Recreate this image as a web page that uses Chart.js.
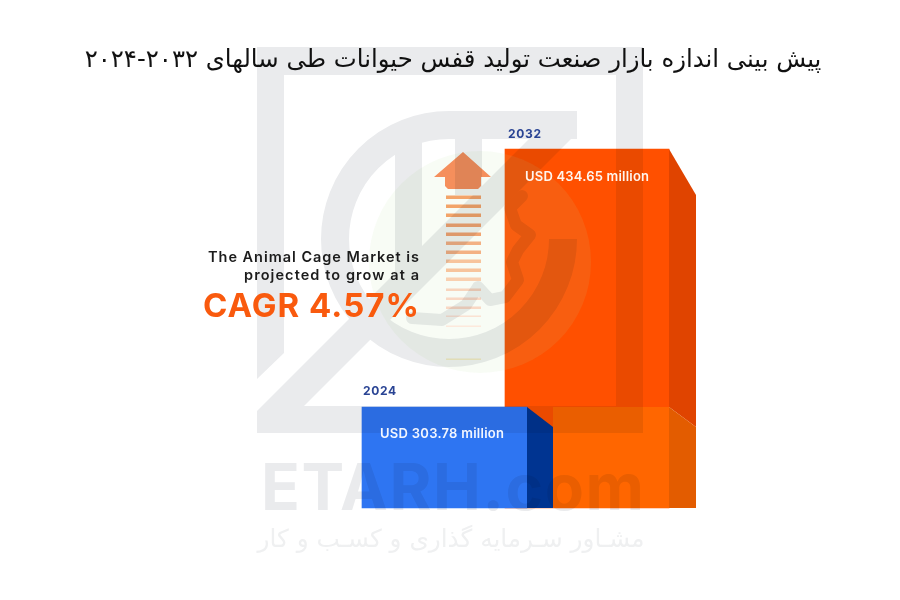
<!DOCTYPE html>
<html lang="fa">
<head>
<meta charset="utf-8">
<style>html,body{margin:0;padding:0;background:#fff}#wrap{width:900px;height:600px}</style>
<script src="https://cdn.jsdelivr.net/npm/chart.js@4"></script>
</head>
<body>
<div id="wrap"><canvas id="c" width="900" height="600"></canvas></div>
<script>
const titleText = 'پیش بینی اندازه بازار صنعت تولید قفس حیوانات طی سالهای ۲۰۳۲-۲۰۲۴';
const categories = ['2024', '2032'];
const values2024 = [303.78, null];
const values2032 = [null, 434.65];
const valueLabels = ['USD 303.78 million', 'USD 434.65 million'];
const axisFloor = 252.6;
const axisCeil = 434.65;
const headlineLines = ['The Animal Cage Market is', 'projected to grow at a'];
const cagrText = 'CAGR 4.57%';
const watermarkText = 'ETARH.com';
const watermarkTagline = 'مشـاور سـرمایه گذاری و کسـب و کار';

function poly(ctx, pts, color) {
  ctx.fillStyle = color;
  ctx.beginPath();
  pts.forEach((p, i) => i ? ctx.lineTo(p[0], p[1]) : ctx.moveTo(p[0], p[1]));
  ctx.closePath();
  ctx.fill();
}

function fitted(ctx, text, x, y, font, color, targetWidth, align) {
  ctx.font = font;
  ctx.fillStyle = color;
  ctx.textAlign = 'left';
  ctx.letterSpacing = '0px';
  const w = ctx.measureText(text).width;
  const sp = (targetWidth - w) / Math.max(1, text.length - 1);
  ctx.letterSpacing = sp.toFixed(3) + 'px';
  ctx.fillText(text, align === 'right' ? x - targetWidth : x, y);
  ctx.letterSpacing = '0px';
}

function buildWatermark() {
  const off = document.createElement('canvas');
  off.width = 900; off.height = 600;
  const g = off.getContext('2d');
  const gray = '#eaebed';
  g.fillStyle = gray;
  g.fillRect(257, 47, 386, 28);
  g.fillRect(616, 47, 27, 386);
  poly(g, [[257,47],[284,47],[284,353],[257,379]], gray);
  poly(g, [[257,411],[555,113],[577,113],[577,133],[304,406],[643,406],[643,433],[257,433]], gray);
  g.fillRect(395, 125, 27, 154);
  g.fillRect(455, 125, 27, 70);
  g.fillRect(449, 111, 128, 28);
  g.strokeStyle = gray;
  g.lineWidth = 28;
  g.beginPath();
  g.arc(449, 239, 114, 0, Math.PI * 1.5);
  g.stroke();
  g.lineWidth = 12;
  g.lineJoin = 'round';
  g.lineCap = 'round';
  g.beginPath();
  [[522,196],[510,208],[516,225],[530,235],[518,250],[512,262],[518,280],[505,297],[490,300],[478,287],[466,305],[442,320],[412,318]]
    .forEach((p, i) => i ? g.lineTo(p[0], p[1]) : g.moveTo(p[0], p[1]));
  g.stroke();
  fitted(g, watermarkText, 261, 510, '700 64px "Inter"', gray, 383);
  return off;
}

const infographic = {
  id: 'infographic',
  beforeDatasetsDraw(chart) {
    const ctx = chart.ctx;
    ctx.save();
    // title
    ctx.fillStyle = '#111';
    ctx.direction = 'rtl';
    ctx.textAlign = 'center';
    ctx.textBaseline = 'alphabetic';
    let size = 24;
    ctx.font = size + 'px "DejaVu Sans"';
    size = size * 737 / ctx.measureText(titleText).width;
    ctx.font = size.toFixed(2) + 'px "DejaVu Sans"';
    ctx.fillText(titleText, 453, 67);
    ctx.direction = 'ltr';
    ctx.restore();
  },
  afterDatasetsDraw(chart) {
    const ctx = chart.ctx;
    const blue = chart.getDatasetMeta(0).data[0];
    const orange = chart.getDatasetMeta(1).data[1];
    const bL = blue.x - blue.width / 2, bR = blue.x + blue.width / 2;
    const oL = orange.x - orange.width / 2, oR = orange.x + orange.width / 2;
    const base = orange.base;
    ctx.save();
    // 3D faces of the 2032 block
    poly(ctx, [[bR + 26, blue.y], [oR, blue.y], [oR, base], [bR + 26, base]], '#ff6600');
    poly(ctx, [[oR, orange.y], [oR + 27, orange.y + 46], [oR + 27, blue.y + 20], [oR, blue.y]], '#e04400');
    poly(ctx, [[oR, blue.y], [oR + 27, blue.y + 20], [oR + 27, base], [oR, base]], '#e35c00');
    // 3D face of the 2024 block
    poly(ctx, [[bR, blue.y], [bR + 26, blue.y + 20], [bR + 26, base], [bR, base]], '#003491');
    // pale watermark disc
    ctx.fillStyle = 'rgba(190,225,160,0.10)';
    ctx.beginPath();
    ctx.arc(480, 262, 111, 0, Math.PI * 2);
    ctx.fill();
    // arrow above the disc
    poly(ctx, [[463,152],[491,177],[481,177],[481,186],[478,189],[448,189],[445,186],[445,177],[434,177]], '#f58f5c');
    const stripeY = [197,206,215,225,234,243,252,261,270,279,290,299,308,317,327,360];
    const stripeC = ['#f3a469','#f3a469','#f3a469','#f2a572','#f2a572','#f3b184','#f3b184','#f7c49c','#f7c49c','#f9d0b0','#f8d4bc','#f9d8c4','#f9d8c4','#fbe2d2','#fde9dc','#f6f0c4'];
    stripeY.forEach((y, i) => {
      ctx.fillStyle = stripeC[i];
      ctx.fillRect(446, y - 1.5, 35, i > 12 ? 1.5 : (i > 9 ? 2.5 : 3.5));
    });
    // watermark multiplied over everything
    ctx.globalCompositeOperation = 'multiply';
    ctx.drawImage(buildWatermark(), 0, 0);
    ctx.globalCompositeOperation = 'source-over';
    // tagline
    ctx.direction = 'rtl';
    ctx.textAlign = 'center';
    ctx.fillStyle = '#eff0f1';
    let ts = 24;
    ctx.font = ts + 'px "DejaVu Sans"';
    ts = ts * 387 / ctx.measureText(watermarkTagline).width;
    ctx.font = ts.toFixed(2) + 'px "DejaVu Sans"';
    ctx.fillText(watermarkTagline, 451, 547);
    ctx.direction = 'ltr';
    ctx.textAlign = 'left';
    // year labels
    fitted(ctx, categories[0], bL + 1, blue.y - 12, '700 12px "Inter"', '#2a4494', 33);
    fitted(ctx, categories[1], oL + 3, orange.y - 11, '700 12px "Inter"', '#2a4494', 33);
    // value labels
    fitted(ctx, valueLabels[0], bL + 18, blue.y + 31, '600 13px "Inter"', '#f2f6ff', 124);
    fitted(ctx, valueLabels[1], oL + 20, orange.y + 32, '600 13px "Inter"', '#fff5ee', 124);
    // headline
    fitted(ctx, headlineLines[0], 419, 262, '600 14.5px "Inter"', '#1c1c1c', 211, 'right');
    fitted(ctx, headlineLines[1], 419, 280, '600 14.5px "Inter"', '#1c1c1c', 175, 'right');
    fitted(ctx, cagrText, 419, 317, '700 33px "Inter"', '#f95a0e', 216, 'right');
    ctx.restore();
  }
};

new Chart(document.getElementById('c'), {
  type: 'bar',
  data: {
    labels: categories,
    datasets: [
      { label: categories[0], data: values2024, base: axisFloor, clip: false, backgroundColor: '#2e75f2', barThickness: 165, borderWidth: 0 },
      { label: categories[1], data: values2032, base: axisFloor, clip: false, backgroundColor: '#ff5000', barThickness: 164, borderWidth: 0 }
    ]
  },
  options: {
    responsive: false,
    animation: false,
    layout: { padding: { left: 373.25, right: 241.75, top: 149, bottom: 92 } },
    scales: {
      x: { display: false, stacked: true },
      y: { display: false, min: axisFloor, max: axisCeil, stacked: false }
    },
    plugins: { legend: { display: false }, tooltip: { enabled: false }, title: { display: false } }
  },
  plugins: [infographic]
});
</script>
</body>
</html>
